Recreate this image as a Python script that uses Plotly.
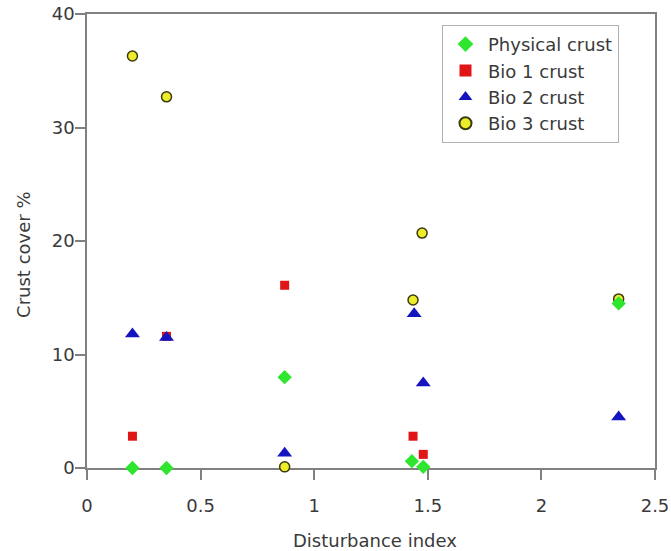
import plotly.graph_objects as go

# Data
phys_x = [0.20, 0.35, 0.87, 1.43, 1.48, 2.34]
phys_y = [0.0, 0.0, 8.0, 0.6, 0.1, 14.5]

bio1_x = [0.20, 0.35, 0.87, 1.435, 1.48]
bio1_y = [2.8, 11.6, 16.1, 2.8, 1.2]

bio2_x = [0.20, 0.35, 0.87, 1.44, 1.48, 2.34]
bio2_y = [11.8, 11.5, 1.3, 13.6, 7.5, 4.5]

bio3_x = [0.20, 0.35, 0.87, 1.435, 1.475, 2.34]
bio3_y = [36.3, 32.7, 0.1, 14.8, 20.7, 14.9]

x_ticks = [0, 0.5, 1, 1.5, 2, 2.5]
x_labels = ["0", "0.5", "1", "1.5", "2", "2.5"]
y_ticks = [0, 10, 20, 30, 40]

x_title = "Disturbance index"
y_title = "Crust cover %"

FONT = "DejaVu Sans, Verdana, sans-serif"
TXT = "#3a3a3a"

fig = go.Figure()
# draw order: bio1, bio2, bio3, physical (physical on top); legend order fixed by legendrank
fig.add_trace(go.Scatter(x=bio1_x, y=bio1_y, mode="markers", name="Bio 1 crust",
                         legendrank=2, cliponaxis=False,
                         marker=dict(symbol="square", size=9, color="#e01515",
                                     line=dict(width=0))))
fig.add_trace(go.Scatter(x=bio2_x, y=bio2_y, mode="markers", name="Bio 2 crust",
                         legendrank=3, cliponaxis=False,
                         marker=dict(symbol="triangle-up", size=13, color="#1515c0",
                                     line=dict(width=0))))
fig.add_trace(go.Scatter(x=bio3_x, y=bio3_y, mode="markers", name="Bio 3 crust",
                         legendrank=4, cliponaxis=False,
                         marker=dict(symbol="circle", size=10, color="#ecec2a",
                                     line=dict(width=1.5, color="#3a3a10"))))
fig.add_trace(go.Scatter(x=phys_x, y=phys_y, mode="markers", name="Physical crust",
                         legendrank=1, cliponaxis=False,
                         marker=dict(symbol="diamond", size=11, color="#2ee62e",
                                     line=dict(width=0))))

axis_common = dict(showline=True, linecolor="#808080", linewidth=1.5, mirror=True,
                   ticks="outside", ticklen=10, tickcolor="#808080", tickwidth=1.5,
                   showgrid=False, zeroline=False, layer="below traces",
                   automargin=False, ticklabeloverflow="allow",
                   tickfont=dict(family=FONT, size=18, color=TXT))

fig.update_layout(
    width=671, height=551,
    margin=dict(l=87, r=16, t=14, b=83),
    paper_bgcolor="white", plot_bgcolor="white",
    font=dict(family=FONT, size=18, color=TXT),
    showlegend=True,
    legend=dict(x=0.625, y=0.976, xanchor="left", yanchor="top",
                bordercolor="#b0b0b0", borderwidth=1, bgcolor="white",
                font=dict(family=FONT, size=18, color=TXT),
                itemwidth=35, itemsizing="constant", tracegroupgap=0),
    xaxis=dict(range=[0, 2.5], tickvals=x_ticks, ticktext=x_labels,
               ticklabelstandoff=11, **axis_common),
    yaxis=dict(range=[0, 40], tickvals=y_ticks,
               ticklabelstandoff=-3, **axis_common),
    annotations=[
        dict(text=x_title, xref="paper", yref="paper", x=0.507, y=-0.159,
             xanchor="center", yanchor="middle", showarrow=False,
             font=dict(family=FONT, size=18, color=TXT)),
        dict(text=y_title, xref="paper", yref="paper", x=-0.113, y=0.469,
             xanchor="center", yanchor="middle", showarrow=False, textangle=-90,
             font=dict(family=FONT, size=18, color=TXT)),
    ],
)

# remove the browser's default 8px body margin so the figure fills the window
fig.write_html("out.html",
               config={"displayModeBar": False},
               post_script="document.body.style.margin='0';document.body.style.overflow='hidden';")
